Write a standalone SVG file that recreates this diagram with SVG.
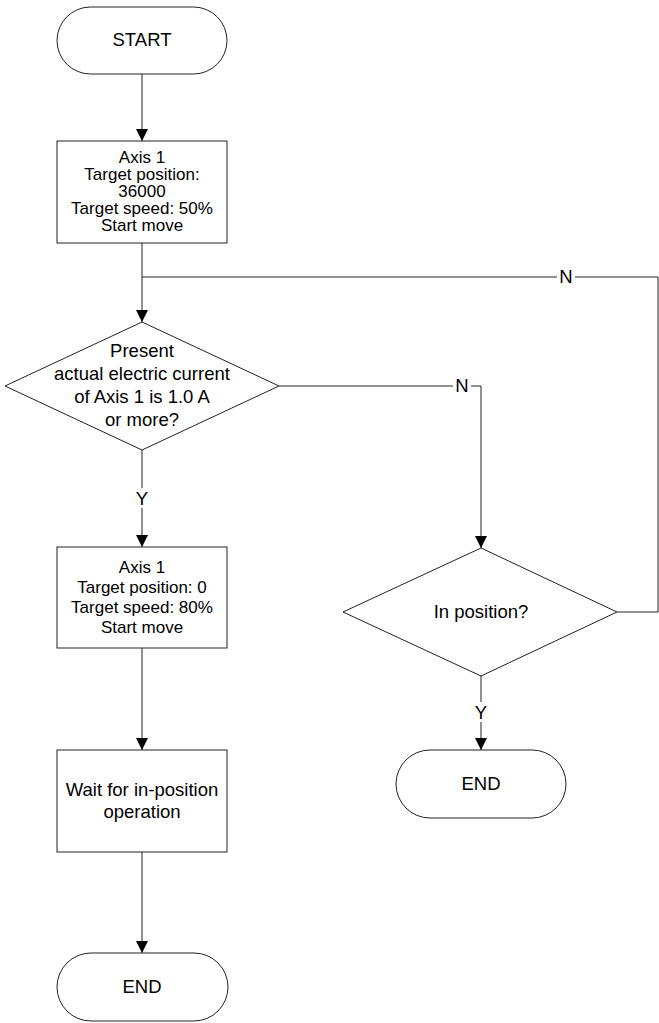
<svg xmlns="http://www.w3.org/2000/svg" width="659" height="1023" viewBox="0 0 659 1023">
<style>
.shape{fill:#fff;stroke:#222;stroke-width:1}
.line{fill:none;stroke:#222;stroke-width:1}
text{font-family:"Liberation Sans",Arial,sans-serif;fill:#000;text-anchor:middle}
.t18{font-size:18.5px}
.t16{font-size:17px}
.lbl{font-size:18.5px}
</style>
<defs>
<marker id="arr" markerUnits="userSpaceOnUse" markerWidth="12" markerHeight="12" refX="12" refY="6" orient="auto">
<path d="M0,0 L12,6 L0,12 z" fill="#000"/>
</marker>
</defs>
<rect width="659" height="1023" fill="#fff"/>
<g id="connectors">
<line class="line" x1="142" y1="74" x2="142" y2="141" marker-end="url(#arr)"/>
<line class="line" x1="142" y1="243" x2="142" y2="322" marker-end="url(#arr)"/>
<polyline class="line" points="617,612 658,612 658,277 142,277"/>
<polyline class="line" points="279,386 481,386 481,548" marker-end="url(#arr)"/>
<line class="line" x1="142" y1="450" x2="142" y2="547" marker-end="url(#arr)"/>
<line class="line" x1="142" y1="648" x2="142" y2="750" marker-end="url(#arr)"/>
<line class="line" x1="142" y1="852" x2="142" y2="953" marker-end="url(#arr)"/>
<line class="line" x1="481" y1="676" x2="481" y2="750" marker-end="url(#arr)"/>
<rect x="557" y="268" width="18" height="18" fill="#fff"/>
<text class="lbl" x="566" y="283">N</text>
<rect x="453" y="377" width="18" height="18" fill="#fff"/>
<text class="lbl" x="462" y="392">N</text>
<rect x="133" y="488" width="18" height="20" fill="#fff"/>
<text class="lbl" x="142" y="505">Y</text>
<rect x="472" y="702" width="18" height="20" fill="#fff"/>
<text class="lbl" x="481" y="719">Y</text>
</g>
<g id="start">
<rect class="shape" x="57" y="7" width="170" height="67" rx="33.5"/>
<text class="t18" x="142" y="46">START</text>
</g>
<g id="move1">
<rect class="shape" x="57" y="141" width="170" height="102"/>
<text class="t16" x="142" y="163">Axis 1</text>
<text class="t16" x="142" y="180">Target position:</text>
<text class="t16" x="142" y="197">36000</text>
<text class="t16" x="142" y="214">Target speed: 50%</text>
<text class="t16" x="142" y="231">Start move</text>
</g>
<g id="decision1">
<polygon class="shape" points="142,322 279,386 142,450 5,386"/>
<text class="t18" x="142" y="357">Present</text>
<text class="t18" x="142" y="380">actual electric current</text>
<text class="t18" x="142" y="403">of Axis 1 is 1.0 A</text>
<text class="t18" x="142" y="426">or more?</text>
</g>
<g id="move2">
<rect class="shape" x="57" y="547" width="170" height="101"/>
<text class="t16" x="142" y="573">Axis 1</text>
<text class="t16" x="142" y="593">Target position: 0</text>
<text class="t16" x="142" y="613">Target speed: 80%</text>
<text class="t16" x="142" y="633">Start move</text>
</g>
<g id="wait">
<rect class="shape" x="57" y="750" width="170" height="102"/>
<text class="t18" x="142" y="796">Wait for in-position</text>
<text class="t18" x="142" y="818">operation</text>
</g>
<g id="end1">
<rect class="shape" x="57" y="953" width="171" height="68" rx="34"/>
<text class="t18" x="142" y="993">END</text>
</g>
<g id="decision2">
<polygon class="shape" points="481,548 617,612 481,676 343,612"/>
<text class="t18" x="481" y="618">In position?</text>
</g>
<g id="end2">
<rect class="shape" x="396" y="750" width="170" height="68" rx="34"/>
<text class="t18" x="481" y="790">END</text>
</g>
</svg>
